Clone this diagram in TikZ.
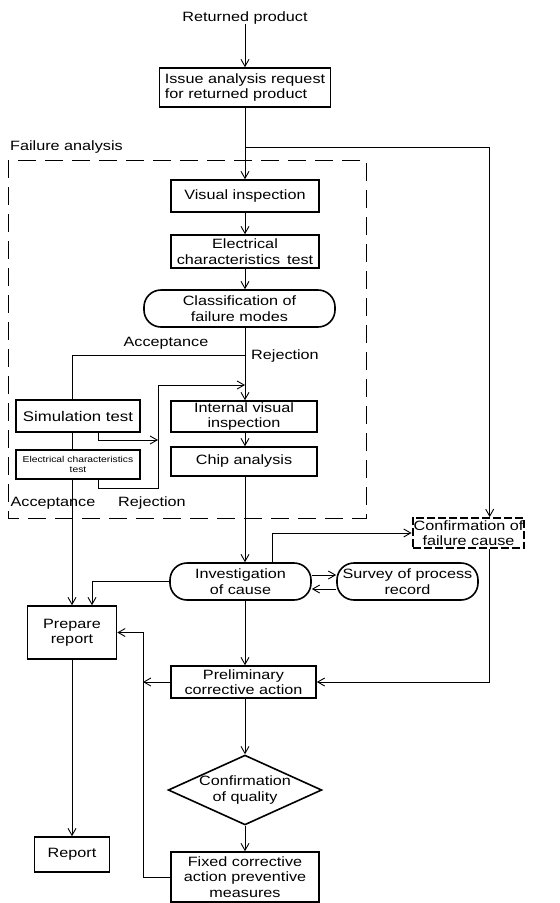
\documentclass[tikz,border=0pt]{standalone}
\usepackage{fontspec}
\setmainfont{Liberation Sans}[FakeStretch=1.2]
\usetikzlibrary{arrows.meta,shapes.geometric,calc}
\begin{document}
\begin{tikzpicture}[x=1pt,y=-1pt,
  font=\fontsize{13.5}{15.5}\selectfont,
  box/.style={draw,line width=1.6pt,fill=white,align=center,inner sep=1pt},
  pill/.style={box,rounded corners=17pt},
  flow/.style={line width=0.9pt},
  arr/.style={flow,-{Straight Barb[length=7pt,width=8pt,line width=0.9pt]}},
  lbl/.style={inner sep=0pt}]
\useasboundingbox (0,0) rectangle (560,903);

% frame of the failure-analysis block
\draw[line width=0.9pt,dash pattern=on 18pt off 9pt] (8,160) rectangle (366,518);
\node[lbl,anchor=west] (fa) at (10,147) {Failure analysis};

% nodes
\node[lbl] (ret) at (245,18) {Returned product};
\node[box,align=left,minimum width=171,minimum height=39] (issue) at (245,87.5)
  {Issue analysis request\\for returned product};
\node[box,minimum width=148,minimum height=32] (vis) at (245,196) {Visual inspection};
\node[box,minimum width=148,minimum height=33] (ect) at (245,251.5)
  {Electrical\\characteristics\, test};
\node[pill,minimum width=191,minimum height=37] (cls) at (239.5,308.5)
  {Classification of\\failure modes};
\node[box,minimum width=146,minimum height=31] (ivi) at (244,416.5)
  {Internal visual\\inspection};
\node[box,minimum width=146,minimum height=29] (chip) at (244,461.5) {Chip analysis};
\node[box,minimum width=124,minimum height=32,font=\fontsize{14}{16}\selectfont] (sim) at (78,416) {Simulation test};
\node[box,minimum width=124,minimum height=29,font=\fontsize{8.6}{10.5}\selectfont] (ect2) at (78,464.5)
  {Electrical characteristics\\test};
\node[pill,minimum width=141,minimum height=37] (inv) at (240.5,581.5)
  {Investigation\\of cause};
\node[pill,minimum width=141,minimum height=37] (sur) at (407.5,581.5)
  {Survey of process\\record};
\node[box,line width=2pt,dash pattern=on 8pt off 3pt,minimum width=105,minimum height=30] (cfc) at (468.5,533)
  {Confirmation of\\failure cause};
\node[box,minimum width=89,minimum height=53] (prep) at (72,632.5) {Prepare\\report};
\node[box,minimum width=145,minimum height=32] (pre) at (243.5,682)
  {Preliminary\\corrective action};
\node[draw,diamond,line width=1.6pt,fill=white,align=center,inner sep=0pt,shape aspect=2.2,
  minimum width=146,minimum height=66] (cq) at (245,790) {Confirmation\\of quality};
\node[box,minimum width=148,minimum height=50] (fix) at (245,877)
  {Fixed corrective\\action preventive\\measures};
\node[box,minimum width=75,minimum height=35] (rep) at (72,854.5) {Report};

% labels on branches
\node[lbl] (acc1) at (166,343) {Acceptance};
\node[lbl,anchor=west] (rej1) at (251,356) {Rejection};
\node[lbl] (acc2) at (53,503) {Acceptance};
\node[lbl] (rej2) at (152,503) {Rejection};

% helper points
\coordinate (b1) at (245,147);
\coordinate (b2) at (245,355);
\coordinate (r1) at (158,488);
\coordinate (r2) at (158,385);
\coordinate (r3) at (158,440);
\coordinate (cx) at (143,0);
\coordinate (cfcin) at ($(cfc.north west)!0.686!(cfc.north east)$);
\coordinate (cfcout) at ($(cfc.south west)!0.686!(cfc.south east)$);

% main flow
\draw[arr] (ret) -- (issue);
\draw[arr] (issue) -- (vis);
\draw[arr] (b1) -| (cfcin);
\draw[arr] (vis) -- (ect);
\draw[arr] (ect.south) -- (cls.north -| ect.south);
\draw[arr] (cls.south -| 245,0) -- (ivi.north -| 245,0);
\draw[arr] (ivi.south -| 245,0) -- (chip.north -| 245,0);
\draw[arr] (chip.south -| 245,0) -- (inv.north -| 245,0);

% acceptance path
\draw[flow] (b2) -| (sim.north -| prep.north);
\draw[flow] (sim.south -| prep.north) -- (ect2.north -| prep.north);
\draw[arr] (ect2.south -| prep.north) -- (prep.north);

% rejection path back to internal inspection
\draw[arr] ([xshift=20pt]sim.south) |- (r3);
\draw[arr] ([xshift=20pt]ect2.south) |- (r1) -- (r2) -- (r2 -| 245,0);

% investigation loop
\draw[arr] ([yshift=6.5pt]inv.east) -- ([yshift=6.5pt]sur.west);
\draw[arr] ([yshift=-7.5pt]sur.west) -- ([yshift=-7.5pt]inv.east);
\draw[arr] ([xshift=31.5pt]inv.north) |- (cfc.west);
\draw[arr] (inv.west) -| ([xshift=20pt]prep.north);
\draw[arr] (inv.south -| 245,0) -- (pre.north -| 245,0);
\draw[arr] (cfcout) |- (pre.east);

% corrective actions
\draw[arr] (pre.west) -- (pre.west -| cx);
\draw[arr] (fix.west) -| (prep.east -| cx) -- (prep.east);
\draw[arr] (pre.south -| 245,0) -- (cq.north);
\draw[arr] (cq.south) -- (fix.north);
\draw[arr] (prep.south) -- (rep.north);
\end{tikzpicture}
\end{document}
